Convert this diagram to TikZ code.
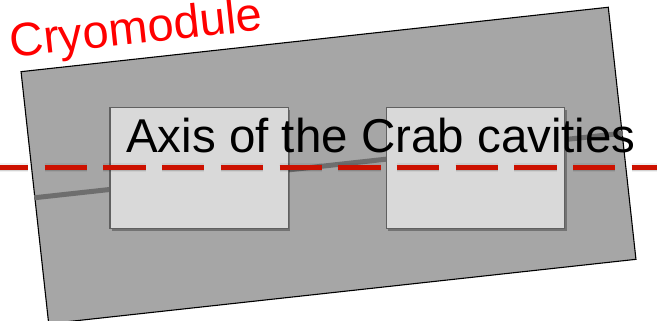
\documentclass[tikz,border=0pt]{standalone}
\usepackage{fontspec}
\setmainfont{Liberation Sans}
\usetikzlibrary{shadows}
\definecolor{cmgray}{HTML}{A6A6A6}
\definecolor{boxgray}{HTML}{D9D9D9}
\definecolor{boxedge}{HTML}{606060}
\definecolor{tubegray}{HTML}{6E6E6E}
\definecolor{axisred}{HTML}{CC1100}
\begin{document}
\begin{tikzpicture}[x=1pt,y=1pt,
  module/.style={draw=black, line width=1.1pt, fill=cmgray, rotate=6.26,
    minimum width=590.8pt, minimum height=253.6pt, inner sep=0pt},
  cavity/.style={draw=boxedge, line width=1.3pt, fill=boxgray,
    minimum width=178.3pt, minimum height=120.6pt, inner sep=0pt,
    drop shadow={shadow xshift=2pt, shadow yshift=-2.5pt, opacity=0.3, fill=black}},
  tube/.style={draw=tubegray, line width=5pt},
  axisline/.style={draw=axisred, line width=5pt, dash pattern=on 42.3pt off 16.4pt, dash phase=14pt},
  axisshadow/.style={draw=black, line width=6pt, dash pattern=on 42.3pt off 16.4pt, dash phase=14pt, opacity=0.12},
  bigtext/.style={font=\fontsize{47.5}{50}\selectfont, inner sep=0pt, anchor=base west}
]
\useasboundingbox (0,0) rectangle (657,321);
\clip (0,0) rectangle (657,321);
\node[module] (cryo) at (328.5,155.5) {};
\draw[tube] (cryo.west) -- (cryo.east);
\node[cavity] (cavA) at (199.2,153) {};
\node[cavity] (cavB) at (475.5,153) {};
\coordinate (axL) at (0,153);
\coordinate (axR) at (657,153);
\begin{scope}[xshift=6pt, yshift=-4pt]
  \draw[axisshadow] (axL) -- (axR);
\end{scope}
\begin{scope}[xshift=8pt, yshift=-5pt]
  \draw[axisshadow, line width=9pt, opacity=0.06] (axL) -- (axR);
\end{scope}
\draw[axisline] (axL) -- (axR);
\node[bigtext] (axis) at (126,168) {Axis of the Crab cavities};
\node[bigtext, rotate=6.2, text=red, font=\fontsize{47}{49}\selectfont] (cmlabel) at (11.5,263.5) {Cryomodule};
\end{tikzpicture}
\end{document}
